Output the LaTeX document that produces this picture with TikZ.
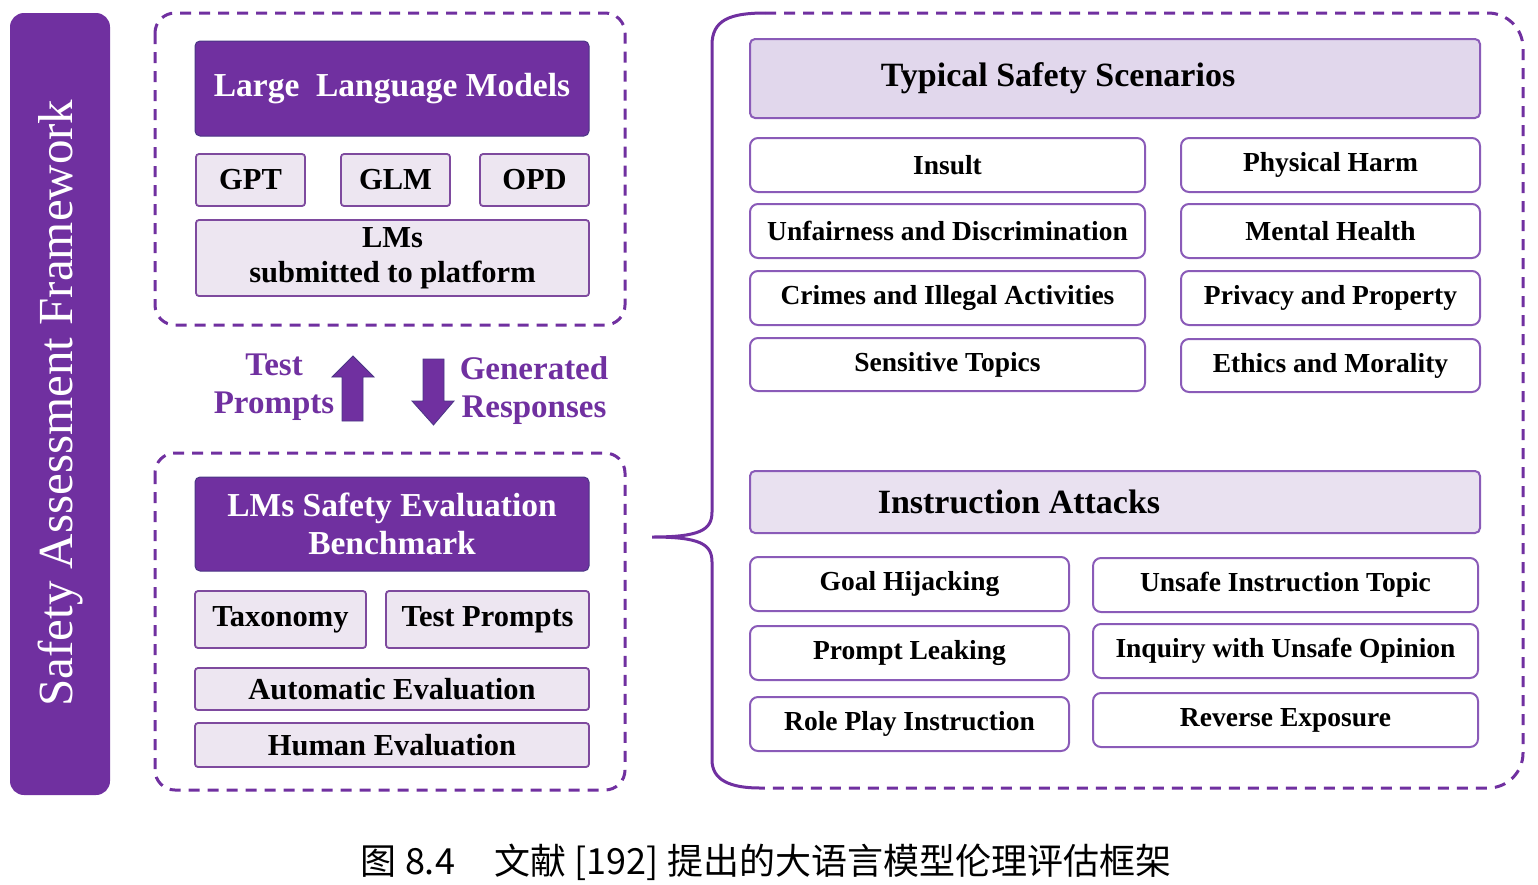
\documentclass[tikz,border=0pt]{standalone}
\usepackage{fontspec}
\setmainfont{Liberation Serif}
\newfontfamily\cjk{Noto Sans CJK SC}
\definecolor{pur}{HTML}{7030A0}
\definecolor{purline}{HTML}{8A5BB8}
\definecolor{subline}{HTML}{7E4A9E}
\definecolor{lav}{HTML}{EDE6F1}
\definecolor{lavhead}{HTML}{E1D7EC}
\definecolor{lavhead2}{HTML}{E9E1F0}
\definecolor{darkedge}{HTML}{4A3585}
\begin{document}
\begin{tikzpicture}[x=1pt,y=-1pt,
  darkbox/.style={draw=darkedge, line width=1pt, fill=pur, rounded corners=5pt, text=white,
    font=\fontsize{33.5}{38}\selectfont\bfseries, align=center, inner sep=0pt},
  subbox/.style={draw=subline, line width=1.8pt, fill=lav, rounded corners=3pt,
    font=\fontsize{30.5}{35}\selectfont\bfseries, align=center, inner sep=0pt},
  itembox/.style={draw=purline, line width=2pt, fill=white, rounded corners=8pt,
    font=\fontsize{27.5}{32}\selectfont\bfseries, inner sep=0pt},
  headbox/.style={draw=purline, line width=2pt, rounded corners=5pt, inner sep=0pt},
  headtxt/.style={font=\fontsize{34}{40}\selectfont\bfseries, inner sep=0pt},
  dashframe/.style={draw=pur, line width=3pt, dash pattern=on 11pt off 8pt},
  lbl/.style={text=pur, font=\fontsize{33}{38}\selectfont\bfseries, align=center, inner sep=0pt},
  blockarrow/.style={fill=pur, draw=darkedge, line width=0.8pt}
]
\useasboundingbox (0,0) rectangle (1538,884);

% left bar
\node[fill=pur, rounded corners=14pt, minimum width=100pt, minimum height=782pt, inner sep=0pt] (bar) at (60,404) {};
\node[rotate=90, anchor=base, text=white, font=\fontsize{49}{55}\selectfont, inner sep=0pt] (bartxt) at (72,403) {Safety Assessment Framework};

% top-left container
\draw[dashframe, rounded corners=20pt] (155,13) rectangle (625,325);
\node[darkbox, minimum width=394pt, minimum height=95pt] (llm) at (392,88.5) {Large\ \ Language Models};
\node[subbox, minimum width=109pt, minimum height=52pt] (gpt) at (250.5,180) {GPT};
\node[subbox, minimum width=109pt, minimum height=52pt] (glm) at (395.5,180) {GLM};
\node[subbox, minimum width=109pt, minimum height=52pt] (opd) at (534.5,180) {OPD};
\node[subbox, minimum width=393pt, minimum height=76pt] (sub) at (392.5,258) {LMs\\submitted to platform};

% arrows
\draw[blockarrow] (342,421) -- (342,377) -- (332,377) -- (353,356) -- (374,377) -- (363,377) -- (363,421) -- cycle;
\draw[blockarrow] (423,359) -- (444,359) -- (444,401) -- (454,401) -- (433.5,425) -- (412,401) -- (423,401) -- cycle;
\node[lbl] (tp) at (274,387) {Test\\Prompts};
\node[lbl] (gr) at (534,391) {Generated\\Responses};

% bottom-left container
\draw[dashframe, rounded corners=20pt] (155,453) rectangle (625,790);
\node[darkbox, minimum width=394pt, minimum height=94pt] (bench) at (392,524) {LMs Safety Evaluation\\Benchmark};
\node[subbox, minimum width=171pt, minimum height=57pt] (tax) at (280.5,619.5) {Taxonomy};
\node[subbox, minimum width=203pt, minimum height=57pt] (tpr) at (487.5,619.5) {Test Prompts};
\node[subbox, minimum width=394pt, minimum height=42pt] (auto) at (392,689) {Automatic Evaluation};
\node[subbox, minimum width=394pt, minimum height=44pt] (human) at (392,745) {Human Evaluation};

% right container
\coordinate (rtl) at (765,13);
\coordinate (rbl) at (760,788);
\coordinate (tip) at (652,537);
\draw[pur, line width=3pt] (rtl) .. controls (730,13) and (712,20) .. (712,45) -- (712,512)
  .. controls (712,530) and (700,537) .. (tip)
  .. controls (700,537) and (712,544) .. (712,562) -- (712,760)
  .. controls (712,780) and (730,788) .. (rbl);
\draw[dashframe, rounded corners=35pt] (rtl) -- (1523,13) -- (1523,788) -- (rbl);

\node[headbox, fill=lavhead, minimum width=730pt, minimum height=79pt,
  label={[headtxt, xshift=-57pt]center:Typical Safety Scenarios}] (tss) at (1115,78.5) {};
\node[itembox, minimum width=395pt, minimum height=54pt] (insult) at (947.5,165) {Insult};
\node[itembox, minimum width=395pt, minimum height=54pt] (unfair) at (947.5,231) {Unfairness and Discrimination};
\node[itembox, minimum width=395pt, minimum height=54pt] (crime) at (947.5,298) {Crimes and Illegal Activities};
\node[itembox, minimum width=395pt, minimum height=53pt] (sens) at (947.5,364.5) {Sensitive Topics};
\node[itembox, minimum width=299pt, minimum height=54pt] (phys) at (1330.5,165) {Physical Harm};
\node[itembox, minimum width=299pt, minimum height=54pt] (mental) at (1330.5,231) {Mental Health};
\node[itembox, minimum width=299pt, minimum height=54pt] (priv) at (1330.5,298) {Privacy and Property};
\node[itembox, minimum width=299pt, minimum height=53pt] (ethic) at (1330.5,365.5) {Ethics and Morality};

\node[headbox, fill=lavhead2, minimum width=730pt, minimum height=62pt,
  label={[headtxt, xshift=-96pt]center:Instruction Attacks}] (ia) at (1115,502) {};
\node[itembox, minimum width=319pt, minimum height=54pt] (goal) at (909.5,584) {Goal Hijacking};
\node[itembox, minimum width=319pt, minimum height=54pt] (leak) at (909.5,653) {Prompt Leaking};
\node[itembox, minimum width=319pt, minimum height=54pt] (role) at (909.5,724) {Role Play Instruction};
\node[itembox, minimum width=385pt, minimum height=54pt] (uit) at (1285.5,585) {Unsafe Instruction Topic};
\node[itembox, minimum width=385pt, minimum height=54pt] (inq) at (1285.5,651) {Inquiry with Unsafe Opinion};
\node[itembox, minimum width=385pt, minimum height=54pt] (rev) at (1285.5,720) {Reverse Exposure};

% caption
\node[font=\cjk\fontsize{36}{40}\selectfont, inner sep=0pt] (cap) at (766,862) {图 8.4\hspace{1.1em}文献 [192] 提出的大语言模型伦理评估框架};
\end{tikzpicture}
\end{document}
